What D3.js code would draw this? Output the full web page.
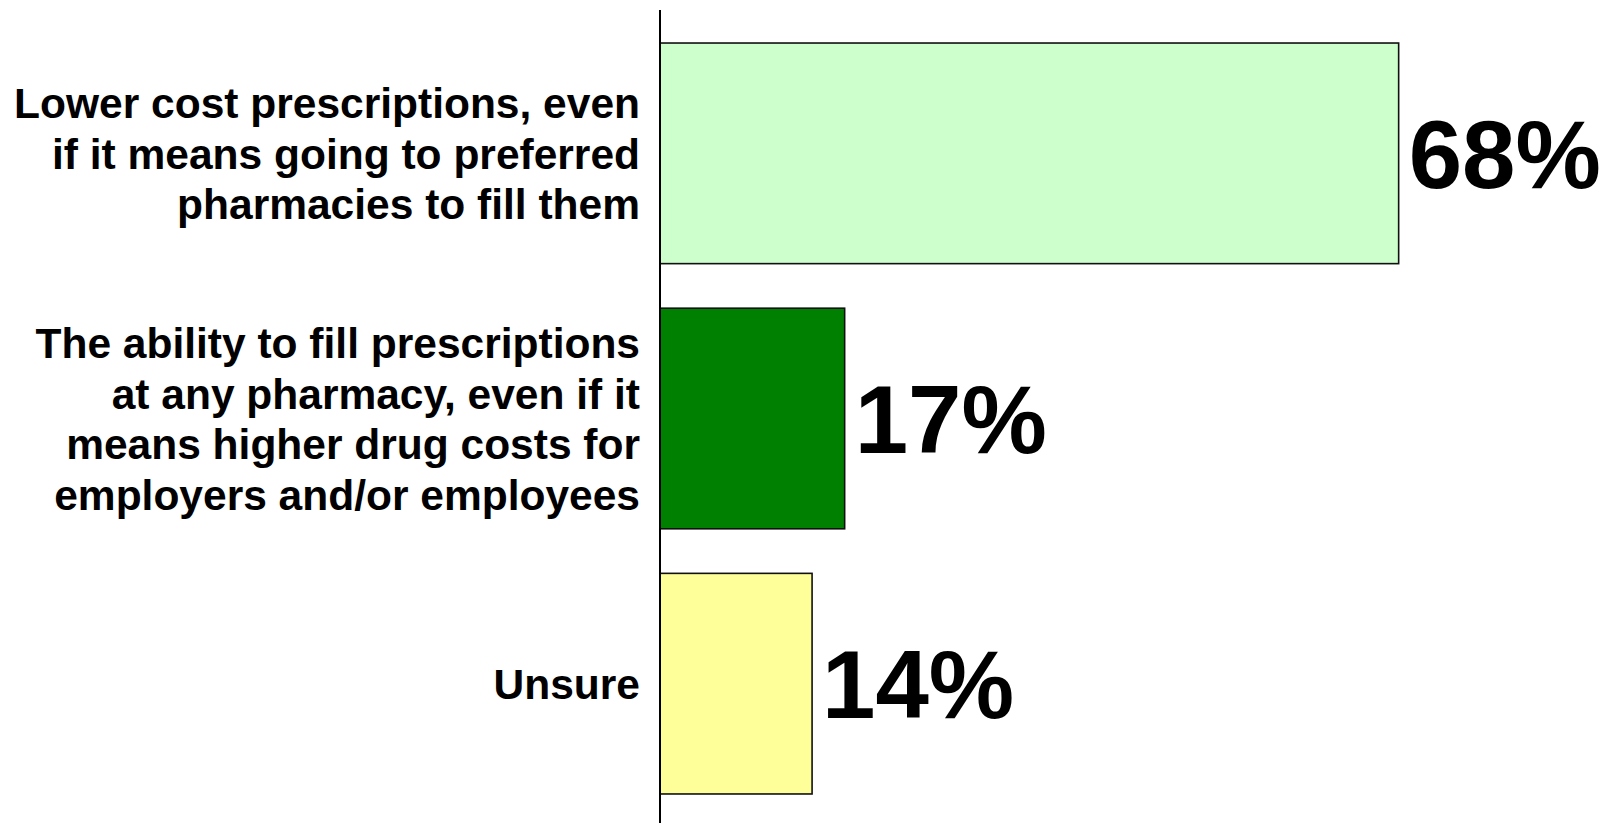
<!DOCTYPE html>
<html>
<head>
<meta charset="utf-8">
<script src="https://cdn.jsdelivr.net/npm/d3@7"></script>
<style>
  html, body { margin: 0; padding: 0; background: #ffffff; }
  svg { display: block; }
  text { font-family: "Liberation Sans", Arial, Helvetica, sans-serif; font-weight: bold; fill: #000; }
</style>
</head>
<body>
<svg id="chart" width="1604" height="823"></svg>
<script>
// Survey answers, top to bottom
const categories = [
  ["Lower cost prescriptions, even", "if it means going to preferred", "pharmacies to fill them"],
  ["The ability to fill prescriptions", "at any pharmacy, even if it", "means higher drug costs for", "employers and/or employees"],
  ["Unsure"]
];
const values = [68, 17, 14];
const valueLabels = ["68%", "17%", "14%"];
const barColors = ["#ccffcc", "#008000", "#ffff99"];

const W = 1604, H = 823;
const axisX = 660;
const svg = d3.select("#chart");

const x = d3.scaleLinear().domain([0, 80]).range([axisX, axisX + 869]);
const y = d3.scaleBand()
  .domain(d3.range(values.length))
  .range([12, H + 2])
  .paddingInner(0.168)
  .paddingOuter(0.117);

// bars
svg.selectAll("rect.bar")
  .data(values)
  .join("rect")
  .attr("class", "bar")
  .attr("x", x(0))
  .attr("y", (d, i) => y(i))
  .attr("width", d => x(d) - x(0))
  .attr("height", y.bandwidth())
  .attr("fill", (d, i) => barColors[i])
  .attr("stroke", "#111")
  .attr("stroke-width", 1.6);

// vertical category axis line
svg.append("line")
  .attr("x1", axisX).attr("x2", axisX)
  .attr("y1", 10).attr("y2", H)
  .attr("stroke", "#000")
  .attr("stroke-width", 2);

// category labels, right aligned, centred on each bar
const catSize = 42.5, lineGap = 50.5;
categories.forEach((lines, i) => {
  const cy = y(i) + y.bandwidth() / 2;
  const t = svg.append("text")
    .attr("text-anchor", "end")
    .attr("font-size", catSize);
  lines.forEach((ln, k) => {
    t.append("tspan")
      .attr("x", 640)
      .attr("y", cy + (k - (lines.length - 1) / 2) * lineGap + catSize * 0.36)
      .text(ln);
  });
});

// value labels at bar ends
const valSize = 96;
svg.selectAll("text.val")
  .data(values)
  .join("text")
  .attr("class", "val")
  .attr("x", d => x(d) + 10)
  .attr("y", (d, i) => y(i) + y.bandwidth() / 2 + valSize * 0.36)
  .attr("font-size", valSize)
  .text((d, i) => valueLabels[i]);
</script>
</body>
</html>
